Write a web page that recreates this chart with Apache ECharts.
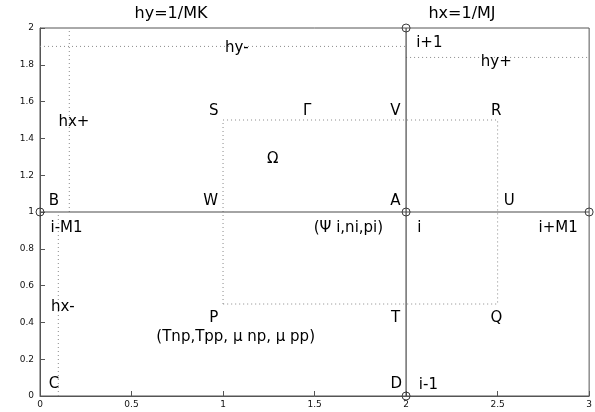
<!DOCTYPE html>
<html>
<head>
<meta charset="utf-8">
<script src="https://cdn.jsdelivr.net/npm/echarts@6/dist/echarts.min.js"></script>
<style>html,body{margin:0;padding:0;background:#fff;}#c{width:595px;height:412px;}</style>
</head>
<body>
<div id="c"></div>
<script>
// Axis ticks
const xTickLabels = ['0', '0.5', '1', '1.5', '2', '2.5', '3'];
const yTickLabels = ['0', '0.2', '0.4', '0.6', '0.8', '1', '1.2', '1.4', '1.6', '1.8', '2'];

// Solid grid lines (each a polyline of [x, y] points)
const solidLines = [
  [[0, 1], [3, 1]],
  [[2, 0], [2, 2]]
];

// Dotted lines
const dottedLines = [
  [[0, 1.9], [2, 1.9]],
  [[0.16, 1], [0.16, 2]],
  [[0.1, 0], [0.1, 1]],
  [[2, 1.84], [3, 1.84]],
  [[1, 0.5], [1, 1.5], [2.5, 1.5], [2.5, 0.5], [1, 0.5]]
];

// Open circle nodes
const nodeX = [0, 3, 2, 2, 2];
const nodeY = [1, 1, 0, 2, 1];

// Text annotations placed in data coordinates
const labelTexts = ['hy-', 'i+1', 'hy+', 'hx+', 'S', 'Γ', 'V', 'R', 'Ω',
  'B', 'W', 'A', 'U', 'i-M1', '(Ψ i,ni,pi)', 'i', 'i+M1',
  'hx-', 'P', 'T', 'Q', '(Tnp,Tpp, μ np, μ pp)', 'C', 'D', 'i-1'];
const labelX = [1.075, 2.127, 2.493, 0.185, 0.949, 1.459, 1.942, 2.493, 1.271,
  0.076, 0.933, 1.942, 2.564, 0.145, 1.685, 2.073, 2.831,
  0.125, 0.949, 1.942, 2.493, 1.069, 0.076, 1.947, 2.122];
const labelY = [1.889, 1.916, 1.813, 1.487, 1.550, 1.550, 1.550, 1.550, 1.289,
  1.061, 1.061, 1.061, 1.061, 0.912, 0.912, 0.912, 0.912,
  0.483, 0.423, 0.423, 0.423, 0.320, 0.065, 0.065, 0.060];

// Headings above the plot
const headings = ['hy=1/MK', 'hx=1/MJ'];

const FONT = 'DejaVu Sans';
const chart = echarts.init(document.getElementById('c'), null, {renderer: 'canvas'});

const series = [];
dottedLines.forEach(function (pts) {
  series.push({
    type: 'line', data: pts, symbol: 'none', silent: true, animation: false,
    lineStyle: {color: '#8a8a8a', width: 1, type: [1, 3]}, z: 2
  });
});
solidLines.forEach(function (pts) {
  series.push({
    type: 'line', data: pts, symbol: 'none', silent: true, animation: false,
    lineStyle: {color: '#4a4a4a', width: 1.2}, z: 3
  });
});
series.push({
  type: 'scatter', animation: false, silent: true, clip: false, z: 4,
  data: nodeX.map(function (x, i) { return [x, nodeY[i]]; }),
  symbol: 'circle', symbolSize: 8,
  itemStyle: {color: 'rgba(0,0,0,0)', borderColor: '#3a3a3a', borderWidth: 1, opacity: 1}
});
series.push({
  type: 'scatter', animation: false, silent: true, z: 5,
  symbolSize: 0,
  itemStyle: {opacity: 1},
  data: labelTexts.map(function (t, i) { return {name: t, value: [labelX[i], labelY[i]]}; }),
  label: {
    show: true, position: 'inside', formatter: '{b}',
    fontFamily: FONT, fontSize: 15, color: '#000', opacity: 1,
    textBorderWidth: 0,
    align: 'center', verticalAlign: 'middle'
  }
});

chart.setOption({
  animation: false,
  backgroundColor: '#fff',
  title: [
    {text: headings[0], left: 171, top: 6, padding: 0, textAlign: 'center',
     textStyle: {fontFamily: FONT, fontSize: 16, fontWeight: 'normal', color: '#000'}},
    {text: headings[1], left: 462, top: 6, padding: 0, textAlign: 'center',
     textStyle: {fontFamily: FONT, fontSize: 16, fontWeight: 'normal', color: '#000'}}
  ],
  grid: {left: 40, right: 5, top: 28, bottom: 16, show: true, borderColor: '#555', borderWidth: 1, containLabel: false},
  xAxis: {
    type: 'value', min: 0, max: 3, interval: 0.5,
    axisLine: {show: true, lineStyle: {color: '#555', width: 1}},
    axisTick: {show: true, inside: true, length: 5, lineStyle: {color: '#555'}},
    splitLine: {show: false},
    axisLabel: {
      margin: 4, fontFamily: FONT, fontSize: 9, color: '#111',
      formatter: function (v) { return xTickLabels[Math.round(v / 0.5)]; }
    }
  },
  yAxis: {
    type: 'value', min: 0, max: 2, interval: 0.2,
    axisLine: {show: true, lineStyle: {color: '#555', width: 1}},
    axisTick: {show: true, inside: true, length: 5, lineStyle: {color: '#555'}},
    splitLine: {show: false},
    axisLabel: {
      margin: 6, fontFamily: FONT, fontSize: 9, color: '#111',
      formatter: function (v) { return yTickLabels[Math.round(v / 0.2)]; }
    }
  },
  series: series
});
</script>
</body>
</html>
